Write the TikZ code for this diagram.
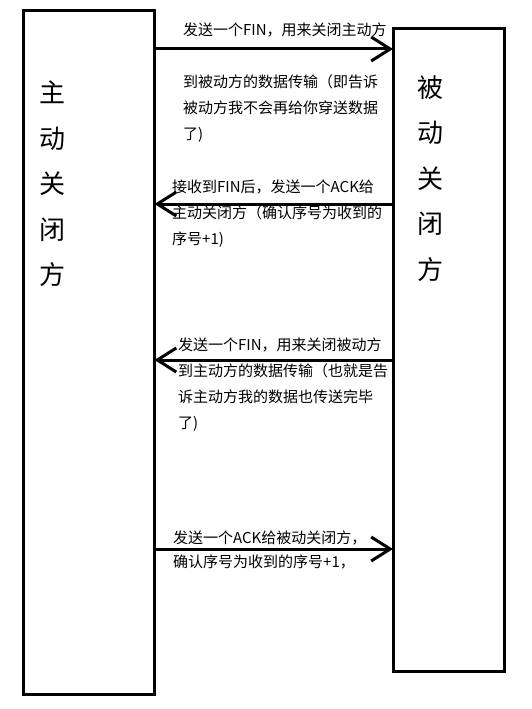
\documentclass[tikz,border=0pt]{standalone}
\usepackage{fontspec}
\newfontfamily\cjk{Noto Sans CJK SC}
\usetikzlibrary{arrows.meta}

\begin{document}
\begin{tikzpicture}[x=1pt,y=-1pt,
  side/.style={draw,line width=3pt,outer sep=0pt,inner sep=0pt},
  title/.style={font=\cjk\fontsize{26}{45.5}\selectfont,align=center,anchor=north,inner sep=0pt},
  note/.style={font=\cjk\fontsize{15}{26}\selectfont,align=left,anchor=north west,inner sep=0pt},
  msg/.style={line width=3pt,-{Straight Barb[length=19pt,width=24pt]}}]
\useasboundingbox (0,0) rectangle (532,709);

\path (89,352.25) node[side,minimum width=131pt,minimum height=683.5pt](active){} (448.75,349.85) node[side,minimum width=111.5pt,minimum height=642.3pt](passive){};

\path (52,81) node[title](activename){主\\动\\关\\闭\\方} (430,75) node[title](passivename){被\\动\\关\\闭\\方};

\path (183,23) node[note](fin1){发送一个FIN，用来关闭主动方\\[26pt]到被动方的数据传输（即告诉\\被动方我不会再给你穿送数据\\了)}
 (172,180) node[note](ack1){接收到FIN后，发送一个ACK给\\主动关闭方（确认序号为收到的\\序号+1)}
 (178,338) node[note](fin2){发送一个FIN，用来关闭被动方\\到主动方的数据传输（也就是告\\诉主动方我的数据也传送完毕\\了)}
 (173,531) node[note,font=\cjk\fontsize{15}{24}\selectfont](ack2){发送一个ACK给被动关闭方，\\确认序号为收到的序号+1，};

\draw[msg] (active.east |- 0,49) -- (passive.west |- 0,49);
\draw[msg] (passive.west |- 0,204) -- (active.east |- 0,204);
\draw[msg] (passive.west |- 0,360) -- (active.east |- 0,360);
\draw[msg] (active.east |- 0,549) -- (passive.west |- 0,549);
\end{tikzpicture}
\end{document}
